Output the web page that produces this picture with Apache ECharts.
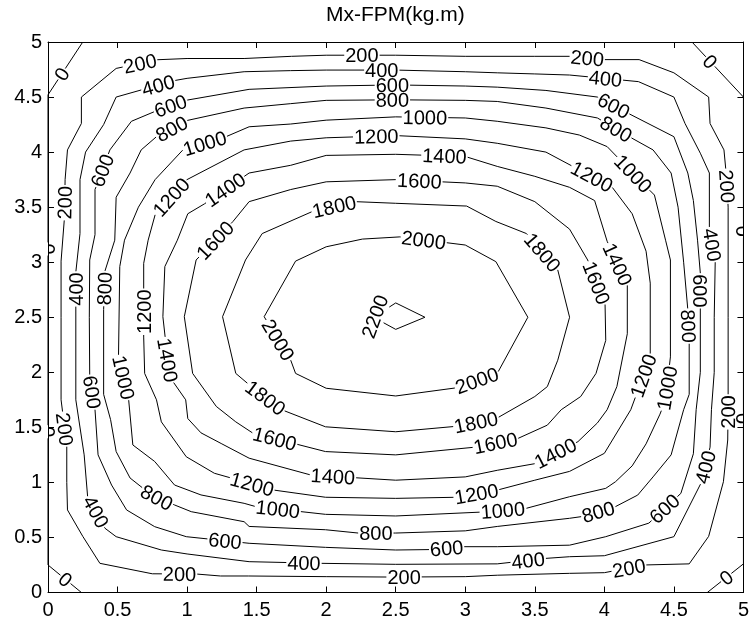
<!DOCTYPE html>
<html><head><meta charset="utf-8">
<script src="https://cdn.jsdelivr.net/npm/echarts@6/dist/echarts.min.js"></script>
<style>html,body{margin:0;padding:0;background:#fff}#c{width:752px;height:622px}</style>
</head><body><div id="c"></div><script>
// ---- data ----
const titleText = 'Mx-FPM(kg.m)';
const levels = [0,200,400,600,800,1000,1200,1400,1600,1800,2000,2200];

const line0 = [
  [[0,4.52],[0.25,5]],
  [[4.63,5],[5,4.5]],
  [[0,0.25],[0.24,0]],
  [[4.74,0],[5,0.26]],
  [[0,4.52],[0,0.25]],
  [[5,4.5],[5,0.26]]
];
const line200 = [[[0.24,4.50],[0.49,4.76],[0.79,4.84],[1.0,4.85],[1.41,4.85],[1.75,4.87],[2.0,4.88],[2.5,4.88],[3.0,4.87],[3.5,4.87],[3.75,4.87],[4.0,4.84],[4.25,4.84],[4.5,4.72],[4.75,4.50],[4.76,4.26],[4.86,4.02],[4.88,3.75],[4.89,3.5],[4.89,2.5],[4.89,1.75],[4.887,1.385],[4.856,1.006],[4.75,0.51],[4.61,0.26],[4.29,0.25],[4.0,0.18],[3.75,0.174],[3.23,0.157],[3.0,0.144],[2.5,0.14],[2.0,0.144],[1.44,0.15],[1.24,0.15],[1.065,0.168],[0.75,0.17],[0.373,0.265],[0.25,0.51],[0.14,0.75],[0.135,1.0],[0.135,1.34],[0.094,1.75],[0.094,2.5],[0.094,3.01],[0.118,3.40],[0.123,3.75],[0.14,4.02],[0.24,4.26],[0.24,4.50]]];
const line400 = [[[0.49,4.50],[0.91,4.65],[1.0,4.67],[1.41,4.73],[1.745,4.74],[2.0,4.745],[2.5,4.745],[3.0,4.73],[3.23,4.72],[3.5,4.71],[3.75,4.70],[4.0,4.67],[4.245,4.64],[4.5,4.50],[4.58,4.26],[4.69,3.99],[4.755,3.81],[4.755,3.32],[4.797,3.0],[4.79,2.5],[4.79,2.0],[4.77,1.66],[4.76,1.32],[4.70,1.006],[4.50,0.507],[4.0,0.334],[3.75,0.325],[3.58,0.31],[3.23,0.26],[2.5,0.256],[1.96,0.265],[1.446,0.28],[1.0,0.35],[0.815,0.386],[0.49,0.507],[0.41,0.583],[0.28,0.885],[0.26,1.25],[0.20,1.75],[0.20,2.60],[0.20,2.91],[0.23,3.26],[0.23,3.75],[0.27,4.0],[0.40,4.25],[0.49,4.50]]];
const line600 = [[[0.338,3.66],[0.445,4.02],[0.60,4.28],[0.77,4.37],[0.99,4.47],[1.446,4.57],[2.0,4.60],[2.5,4.61],[3.0,4.60],[3.23,4.59],[3.58,4.56],[3.95,4.50],[4.19,4.34],[4.50,4.14],[4.60,3.81],[4.64,3.56],[4.67,3.2],[4.69,2.9],[4.69,2.0],[4.66,1.66],[4.64,1.26],[4.55,0.90],[4.32,0.63],[4.01,0.507],[3.75,0.43],[3.23,0.416],[2.98,0.416],[2.75,0.39],[2.5,0.386],[1.995,0.41],[1.446,0.447],[0.994,0.507],[0.767,0.598],[0.565,0.75],[0.457,0.976],[0.36,1.25],[0.338,1.66],[0.30,1.96],[0.297,2.5],[0.30,3.02],[0.338,3.25],[0.338,3.66]]];
const line800 = [[[0.48,3.20],[0.49,3.59],[0.59,3.81],[0.67,4.02],[0.78,4.14],[1.005,4.29],[1.41,4.40],[1.745,4.44],[2.0,4.47],[2.5,4.475],[3.0,4.47],[3.23,4.46],[3.58,4.40],[3.95,4.31],[4.20,4.125],[4.35,4.02],[4.48,3.81],[4.53,3.50],[4.57,3.0],[4.60,2.57],[4.61,2.28],[4.61,1.8],[4.57,1.66],[4.48,1.25],[4.35,1.05],[4.24,0.885],[4.08,0.78],[3.84,0.69],[3.75,0.674],[3.23,0.60],[3.0,0.56],[2.5,0.54],[2.23,0.54],[1.995,0.57],[1.446,0.60],[1.41,0.643],[1.03,0.734],[0.91,0.795],[0.75,0.88],[0.59,1.04],[0.49,1.28],[0.45,1.57],[0.40,1.8],[0.40,2.57],[0.41,2.93],[0.48,3.20]]];
const line1000 = [[[0.55,3.20],[0.65,3.50],[0.77,3.75],[0.97,4.02],[1.28,4.14],[1.446,4.23],[1.745,4.255],[2.0,4.29],[2.5,4.32],[3.0,4.31],[3.23,4.28],[3.58,4.22],[3.82,4.155],[4.02,4.05],[4.25,3.75],[4.36,3.61],[4.44,3.20],[4.475,3.02],[4.475,2.14],[4.44,1.75],[4.40,1.62],[4.30,1.35],[4.20,1.15],[4.08,1.006],[4.01,0.946],[3.75,0.87],[3.44,0.765],[3.11,0.73],[2.5,0.695],[1.995,0.71],[1.494,0.78],[1.41,0.81],[1.10,0.886],[0.91,0.976],[0.767,1.19],[0.61,1.34],[0.58,1.75],[0.505,2.17],[0.516,2.96],[0.55,3.20]]];
const line1200 = [[[0.72,3.20],[0.77,3.43],[1.005,3.76],[1.41,4.02],[1.745,4.10],[2.0,4.13],[2.5,4.15],[3.0,4.12],[3.23,4.08],[3.58,4.0],[4.07,3.67],[4.20,3.44],[4.30,3.10],[4.33,2.81],[4.33,2.14],[4.19,1.66],[4.0,1.264],[3.75,1.10],[3.5,1.02],[3.23,0.93],[2.94,0.865],[2.5,0.855],[1.995,0.865],[1.625,0.93],[1.196,1.083],[0.994,1.233],[0.815,1.55],[0.78,1.75],[0.695,1.99],[0.688,2.32],[0.688,2.99],[0.72,3.20]]];
const line1400 = [[[0.93,3.20],[1.005,3.44],[1.125,3.53],[1.446,3.81],[1.745,3.88],[2.0,3.97],[2.5,3.98],[3.0,3.96],[3.23,3.87],[3.5,3.78],[3.75,3.68],[3.93,3.56],[4.02,3.19],[4.165,2.79],[4.165,2.35],[4.09,1.87],[4.02,1.66],[3.95,1.54],[3.81,1.37],[3.50,1.17],[3.23,1.11],[3.0,1.05],[2.5,1.02],[1.89,1.067],[1.446,1.22],[1.25,1.35],[1.10,1.45],[1.005,1.58],[0.99,1.75],[0.874,1.96],[0.826,2.505],[0.84,2.96],[0.93,3.20]]];
const line1600 = [[[1.065,3.02],[1.33,3.37],[1.446,3.55],[1.745,3.66],[2.0,3.73],[2.5,3.75],[2.83,3.73],[3.0,3.72],[3.23,3.69],[3.5,3.55],[3.75,3.3],[3.88,3.02],[4.01,2.60],[4.01,2.29],[3.94,1.99],[3.83,1.78],[3.69,1.66],[3.59,1.52],[3.38,1.40],[3.07,1.32],[2.5,1.25],[1.995,1.28],[1.47,1.45],[1.35,1.55],[1.21,1.69],[1.04,1.99],[0.98,2.505],[1.065,3.02]]];
const line1800 = [[[1.42,3.02],[1.54,3.26],[1.90,3.46],[2.21,3.55],[2.5,3.535],[3.01,3.51],[3.22,3.37],[3.44,3.26],[3.665,2.93],[3.75,2.50],[3.665,2.11],[3.59,1.87],[3.50,1.78],[3.23,1.585],[2.94,1.51],[2.5,1.46],[1.995,1.505],[1.68,1.66],[1.50,1.83],[1.35,1.99],[1.255,2.505],[1.42,3.02]]];
const line2000 = [[[1.554,2.505],[1.78,3.01],[2.0,3.14],[2.26,3.21],[2.53,3.23],[3.0,3.156],[3.22,3.005],[3.45,2.50],[3.23,1.99],[2.92,1.855],[2.5,1.785],[2.0,1.855],[1.78,1.99],[1.745,2.11],[1.554,2.505]]];
const line2200 = [[[2.5,2.63],[2.71,2.50],[2.5,2.39],[2.34,2.5],[2.5,2.63]]];

// label anchor positions (x, y[, angle in degrees])
const label0 = [[0.11,4.70],[4.76,4.82],[0.12,0.11],[4.88,0.13],[0,3.12],[0,1.46],[5,3.28],[5,1.58]];
const label200 = [[0.664,4.79],[2.257,4.867],[3.876,4.837],[4.878,3.69],[4.90,1.64],[4.177,0.22],[2.56,0.12],[0.946,0.15],[0.095,1.48],[0.123,3.54]];
const label400 = [[0.79,4.62],[2.40,4.745],[4.007,4.655],[4.765,3.156],[4.76,1.128],[3.454,0.265],[1.84,0.25],[0.326,0.72],[0.207,2.757]];
const label600 = [[0.881,4.42],[0.416,3.82],[2.476,4.61],[4.067,4.42],[4.706,2.74],[4.43,0.765],[2.865,0.416],[1.27,0.44],[0.266,1.81]];
const label800 = [[0.89,4.21],[2.476,4.47],[4.09,4.22],[4.61,2.42],[3.96,0.713],[2.357,0.52],[0.78,0.855],[0.414,2.76]];
const label1000 = [[1.13,4.07],[2.71,4.29],[4.18,3.77],[4.463,1.855],[3.27,0.74],[1.65,0.734],[0.516,1.945]];
const label1200 = [[0.886,3.59],[2.36,4.14],[3.92,3.80],[4.31,1.955],[3.084,0.87],[1.46,0.95],[0.676,2.55]];
const label1400 = [[1.268,3.67],[2.85,3.95],[4.11,2.99],[3.65,1.26],[2.047,1.02],[0.85,2.11]];
const label1600 = [[1.20,3.20],[2.67,3.74],[3.96,2.82],[3.22,1.34],[1.625,1.37]];
const label1800 = [[2.05,3.545],[3.565,3.10],[3.084,1.505],[1.566,1.773]];
const label2000 = [[2.70,3.19],[1.63,2.275],[3.09,1.90]];
const label2200 = [[2.35,2.505,70]];

const lineSets = [line0,line200,line400,line600,line800,line1000,line1200,line1400,line1600,line1800,line2000,line2200];
const labelSets = [label0,label200,label400,label600,label800,label1000,label1200,label1400,label1600,label1800,label2000,label2200];

// ---- chart ----
const FONT_FAMILY = '"Liberation Sans", Arial, sans-serif';
const FONT = '20px ' + FONT_FAMILY;
const chart = echarts.init(document.getElementById('c'), null, {renderer:'canvas', width:752, height:622});
const mctx = document.createElement('canvas').getContext('2d');
mctx.font = '21px ' + FONT_FAMILY;
const titleWidth = mctx.measureText(titleText).width;
mctx.font = FONT;

function axisCommon(pos, showLabel){
  return {
    type:'value', min:0, max:5, interval:0.5, position:pos,
    axisLine:{show:true, onZero:false, lineStyle:{color:'#000', width:1}},
    axisTick:{show:true, inside:true, length:6, lineStyle:{color:'#000', width:1}},
    axisLabel:{show:showLabel, color:'#000', fontSize:20, fontFamily:FONT_FAMILY, margin: pos==='bottom'?8:6, showMinLabel:true, showMaxLabel:true},
    splitLine:{show:false}
  };
}
const baseOption = {
  animation:false,
  textStyle:{fontFamily:FONT_FAMILY},
  title:{text:titleText, left:Math.round(395 - titleWidth/2), top:5, padding:0, textStyle:{fontFamily:FONT_FAMILY, fontSize:21, fontWeight:'normal', color:'#000'}},
  grid:{left:48, top:42, width:699, height:550.5, show:false},
  xAxis:[axisCommon('bottom', true), axisCommon('top', false)],
  yAxis:[axisCommon('left', true), axisCommon('right', false)],
  series:[{type:'line', data:[], xAxisIndex:0, yAxisIndex:0}]
};
chart.setOption(baseOption);

const toPx = p => chart.convertToPixel({gridIndex:0}, p);
const toData = p => chart.convertFromPixel({gridIndex:0}, p);

function nearest(polys, P){
  let best = {d:Infinity};
  polys.forEach((pl, pi) => {
    for (let i = 0; i < pl.length - 1; i++){
      const A = pl[i], B = pl[i+1];
      const dx = B[0]-A[0], dy = B[1]-A[1];
      const L2 = dx*dx + dy*dy;
      let t = L2 ? ((P[0]-A[0])*dx + (P[1]-A[1])*dy) / L2 : 0;
      t = Math.max(0, Math.min(1, t));
      const Q = [A[0]+t*dx, A[1]+t*dy];
      const d = Math.hypot(P[0]-Q[0], P[1]-Q[1]);
      if (d < best.d) best = {d, pi, i, t, Q};
    }
  });
  return best;
}
function walk(pl, i, t, dist){
  const cum = [0];
  for (let k = 1; k < pl.length; k++) cum.push(cum[k-1] + Math.hypot(pl[k][0]-pl[k-1][0], pl[k][1]-pl[k-1][1]));
  const total = cum[cum.length-1];
  const closed = Math.abs(pl[0][0]-pl[pl.length-1][0]) < 1e-6 && Math.abs(pl[0][1]-pl[pl.length-1][1]) < 1e-6;
  let s = cum[i] + t*(cum[i+1]-cum[i]) + dist;
  if (closed) s = ((s % total) + total) % total; else s = Math.max(0, Math.min(total, s));
  for (let k = 0; k < pl.length-1; k++){
    if (s <= cum[k+1] || k === pl.length-2){
      const seg = cum[k+1]-cum[k];
      const u = seg ? (s-cum[k])/seg : 0;
      return [pl[k][0] + u*(pl[k+1][0]-pl[k][0]), pl[k][1] + u*(pl[k+1][1]-pl[k][1])];
    }
  }
}
function clipBox(p0, p1, C, a, hw, hh){
  const ca = Math.cos(a), sa = Math.sin(a);
  const loc = p => { const dx = p[0]-C[0], dy = p[1]-C[1]; return [dx*ca - dy*sa, dx*sa + dy*ca]; };
  const A = loc(p0), B = loc(p1);
  const du = B[0]-A[0], dv = B[1]-A[1];
  let t0 = 0, t1 = 1;
  const P = [-du, du, -dv, dv];
  const Qv = [A[0]+hw, hw-A[0], A[1]+hh, hh-A[1]];
  for (let k = 0; k < 4; k++){
    if (P[k] === 0){ if (Qv[k] < 0) return null; }
    else {
      const r = Qv[k]/P[k];
      if (P[k] < 0){ if (r > t1) return null; if (r > t0) t0 = r; }
      else { if (r < t0) return null; if (r < t1) t1 = r; }
    }
  }
  return t1 > t0 ? [t0, t1] : null;
}

const lineSeries = [];
const labelData = [];
levels.forEach((lev, li) => {
  const polys = lineSets[li];
  const labs = labelSets[li];
  const pxPolys = polys.map(pl => pl.map(toPx));
  const text = String(lev);
  const w = mctx.measureText(text).width;
  const boxes = labs.map(l => {
    const nb = nearest(pxPolys, toPx([l[0], l[1]]));
    const pl = pxPolys[nb.pi];
    let a;
    if (l.length > 2) a = l[2]*Math.PI/180;
    else {
      const A = walk(pl, nb.i, nb.t, -w/2), B = walk(pl, nb.i, nb.t, w/2);
      a = Math.atan2(-(B[1]-A[1]), B[0]-A[0]);
      if (a > Math.PI/2 + 1e-6) a -= Math.PI;
      if (a < -Math.PI/2 - 1e-6) a += Math.PI;
    }
    const C = [nb.Q[0] + 1.5*Math.sin(a), nb.Q[1] + 1.5*Math.cos(a)];
    const D = toData(C);
    labelData.push([D[0], D[1], a, lev]);
    return {C, a, hw: w/2 + 1, hh: 9};
  });
  polys.forEach((pl, pi) => {
    const pp = pxPolys[pi];
    const pieces = [];
    let cur = null;
    for (let i = 0; i < pl.length-1; i++){
      const D0 = pl[i], D1 = pl[i+1];
      const ints = [];
      boxes.forEach(b => { const r = clipBox(pp[i], pp[i+1], b.C, b.a, b.hw, b.hh); if (r) ints.push(r); });
      ints.sort((x, y) => x[0]-y[0]);
      const kept = [];
      let s = 0;
      ints.forEach(r => { if (r[0] > s) kept.push([s, r[0]]); s = Math.max(s, r[1]); });
      if (s < 1) kept.push([s, 1]);
      const lerp = t => [D0[0] + t*(D1[0]-D0[0]), D0[1] + t*(D1[1]-D0[1])];
      kept.forEach(k => {
        const P0 = lerp(k[0]), P1 = lerp(k[1]);
        if (cur && k[0] === 0) cur.push(P1);
        else { if (cur) pieces.push(cur); cur = [P0, P1]; }
      });
      if (kept.length === 0 || kept[kept.length-1][1] < 1){ if (cur){ pieces.push(cur); cur = null; } }
    }
    if (cur) pieces.push(cur);
    pieces.forEach(pc => lineSeries.push({
      type:'line', data:pc, xAxisIndex:0, yAxisIndex:0, showSymbol:false, symbol:'none',
      silent:true, clip:true, z:2, lineStyle:{color:'#000', width:1}
    }));
  });
});

const labelSeries = {
  type:'custom', coordinateSystem:'cartesian2d', xAxisIndex:0, yAxisIndex:0, clip:true, silent:true, z:3,
  data: labelData,
  encode:{x:0, y:1},
  renderItem: (params, api) => {
    const c = api.coord([api.value(0), api.value(1)]);
    return {
      type:'text', x:c[0], y:c[1], rotation:api.value(2),
      style:{text:String(api.value(3)), font:FONT, fill:'#000', align:'center', verticalAlign:'middle'}
    };
  }
};

const fullOption = Object.assign({}, baseOption, {series: lineSeries.concat([labelSeries])});
chart.setOption(fullOption, true);
</script></body></html>
